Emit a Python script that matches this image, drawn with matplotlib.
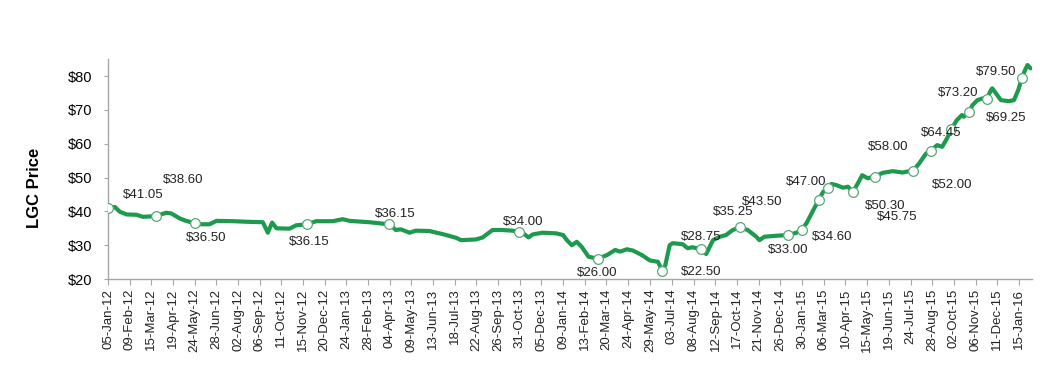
import matplotlib
matplotlib.use("Agg")
import matplotlib.pyplot as plt
import pandas as pd

plt.rcParams['font.family'] = ['Liberation Sans', 'DejaVu Sans']

# LGC spot price trace
dates = [
    "2012-01-05", "2012-01-16", "2012-01-24", "2012-02-04", "2012-02-20", "2012-03-01",
    "2012-03-22", "2012-04-08", "2012-04-16", "2012-04-30", "2012-05-10", "2012-05-24",
    "2012-06-01", "2012-06-17", "2012-06-28", "2012-07-25", "2012-08-21", "2012-09-11",
    "2012-09-19", "2012-09-26", "2012-10-03", "2012-10-24", "2012-11-04", "2012-11-21",
    "2012-12-06", "2013-01-02", "2013-01-18", "2013-01-29", "2013-03-02", "2013-03-18",
    "2013-04-03", "2013-04-14", "2013-04-22", "2013-05-06", "2013-05-16", "2013-06-07",
    "2013-06-28", "2013-07-20", "2013-07-28", "2013-08-21", "2013-09-01", "2013-09-17",
    "2013-10-03", "2013-10-19", "2013-10-29", "2013-11-07", "2013-11-14", "2013-11-21",
    "2013-12-07", "2013-12-29", "2014-01-09", "2014-01-15", "2014-01-23", "2014-01-31",
    "2014-02-08", "2014-02-19", "2014-03-06", "2014-03-21", "2014-04-03", "2014-04-11",
    "2014-04-22", "2014-05-02", "2014-05-16", "2014-05-29", "2014-06-11", "2014-06-18",
    "2014-06-23", "2014-06-30", "2014-07-05", "2014-07-21", "2014-07-29", "2014-08-06",
    "2014-08-20", "2014-08-28", "2014-09-08", "2014-09-19", "2014-09-29", "2014-10-10",
    "2014-10-21", "2014-11-03", "2014-11-17", "2014-11-22", "2014-11-30", "2014-12-19",
    "2015-01-07", "2015-01-21", "2015-01-29", "2015-02-06", "2015-02-17", "2015-02-26",
    "2015-03-05", "2015-03-12", "2015-03-18", "2015-03-26", "2015-04-06", "2015-04-14",
    "2015-04-22", "2015-04-30", "2015-05-07", "2015-05-16", "2015-05-27", "2015-06-09",
    "2015-06-25", "2015-07-11", "2015-07-22", "2015-07-28", "2015-08-07", "2015-08-18",
    "2015-08-26", "2015-09-05", "2015-09-13", "2015-09-21", "2015-09-28", "2015-10-07",
    "2015-10-15", "2015-10-18", "2015-10-26", "2015-11-01", "2015-11-09", "2015-11-17",
    "2015-11-24", "2015-12-01", "2015-12-03", "2015-12-09", "2015-12-17", "2015-12-30",
    "2016-01-07", "2016-01-14", "2016-01-20", "2016-01-25", "2016-01-29", "2016-02-03",
]
prices = [
    41.05, 41.3, 39.9, 39.1, 39.0, 38.4,
    38.6, 39.6, 39.4, 37.9, 37.2, 36.5,
    36.2, 36.2, 37.2, 37.1, 36.9, 36.8,
    33.7, 36.7, 35.0, 34.9, 35.9, 36.15,
    37.1, 37.1, 37.7, 37.2, 36.8, 36.5,
    36.15, 34.5, 34.7, 33.7, 34.3, 34.2,
    33.3, 32.2, 31.5, 31.7, 32.3, 34.5,
    34.5, 34.3, 34.0, 33.3, 32.3, 33.2,
    33.7, 33.5, 33.0, 31.5, 30.0, 31.0,
    29.5, 26.6, 26.0, 27.1, 28.6, 28.1,
    28.8, 28.4, 27.1, 25.5, 25.1, 22.5,
    24.1, 30.0, 30.6, 30.3, 29.1, 29.4,
    28.75, 27.4, 31.5, 32.5, 33.0, 34.5,
    35.25, 34.5, 32.5, 31.5, 32.5, 32.8,
    33.0, 33.7, 34.6, 36.5, 40.4, 43.5,
    45.8, 47.0, 48.1, 47.8, 47.0, 47.3,
    45.75, 48.3, 50.7, 49.8, 50.3, 51.4,
    51.9, 51.5, 51.9, 52.0, 54.2, 57.1,
    58.0, 59.6, 59.1, 61.6, 64.45, 67.0,
    68.5, 68.0, 69.25, 71.4, 72.9, 73.4,
    73.2, 75.9, 76.4, 74.9, 72.9, 72.6,
    72.9, 75.9, 79.5, 81.8, 83.3, 82.3,
]

# labelled points
label_dates = [
    "2012-01-05", "2012-03-22", "2012-05-24", "2012-11-21", "2013-04-03", "2013-10-29",
    "2014-03-06", "2014-06-18", "2014-08-20", "2014-10-21", "2015-02-26", "2015-01-07",
    "2015-01-29", "2015-03-12", "2015-04-22", "2015-05-27", "2015-08-26", "2015-07-28",
    "2015-09-28", "2015-10-26", "2015-11-24", "2016-01-20",
]
label_values = [
    41.05, 38.60, 36.50, 36.15, 36.15, 34.00,
    26.00, 22.50, 28.75, 35.25, 43.50, 33.00,
    34.60, 47.00, 45.75, 50.30, 58.00, 52.00,
    64.45, 69.25, 73.20, 79.50,
]

tick_labels = [
    "05-Jan-12", "09-Feb-12", "15-Mar-12", "19-Apr-12", "24-May-12", "28-Jun-12",
    "02-Aug-12", "06-Sep-12", "11-Oct-12", "15-Nov-12", "20-Dec-12", "24-Jan-13",
    "28-Feb-13", "04-Apr-13", "09-May-13", "13-Jun-13", "18-Jul-13", "22-Aug-13",
    "26-Sep-13", "31-Oct-13", "05-Dec-13", "09-Jan-14", "13-Feb-14", "20-Mar-14",
    "24-Apr-14", "29-May-14", "03-Jul-14", "08-Aug-14", "12-Sep-14", "17-Oct-14",
    "21-Nov-14", "26-Dec-14", "30-Jan-15", "06-Mar-15", "10-Apr-15", "15-May-15",
    "19-Jun-15", "24-Jul-15", "28-Aug-15", "02-Oct-15", "06-Nov-15", "11-Dec-15",
    "15-Jan-16",
]

# label offsets in pixels (dx, dy) from each marker
offsets = [
    (35, 13), (27, 36), (11, -15), (2, -18), (6, 10), (5, 10),
    (-1, -14), (39, -1), (0, 12), (-6, 15), (-57, -2), (0, -15),
    (31, -7), (-21, 6), (44, -25), (11, -29), (-43, 4), (39, -14),
    (-10, -4), (37, -6), (-29, 6), (-26, 6),
]

green = '#1d9a4e'
grey = '#a6a6a6'

x = pd.to_datetime(dates)
lx = pd.to_datetime(label_dates)
tx = pd.to_datetime(tick_labels, format='%d-%b-%y')

fig = plt.figure(figsize=(10.51, 3.68), dpi=100)
ax = fig.add_axes([0.1028, 0.2418, 0.879, 0.5972])

ax.plot(x, prices, color=green, linewidth=3.0, solid_joinstyle='round',
        solid_capstyle='round', zorder=2)
ax.plot(lx, label_values, linestyle='none', marker='o', markersize=7,
        markerfacecolor='white', markeredgecolor='#5aa878', markeredgewidth=0.9,
        zorder=3)

for d, v, (dx, dy) in zip(lx, label_values, offsets):
    ax.annotate(f"${v:.2f}", xy=(d, v), xytext=(dx, dy), textcoords='offset pixels',
                ha='center', va='center', fontsize=9.5, color='#222222', zorder=4)

ax.set_xlim(pd.Timestamp("2012-01-05"), pd.Timestamp("2016-02-05"))
ax.set_ylim(20, 85)
ax.set_yticks([20, 30, 40, 50, 60, 70, 80])
ax.set_yticklabels([f"${v}" for v in [20, 30, 40, 50, 60, 70, 80]], fontsize=10.5)
ax.set_xticks(tx)
ax.set_xticklabels(tick_labels, rotation=90, fontsize=9.5, color='#222222')
ax.xaxis.set_minor_locator(plt.NullLocator())

for s in ['top', 'right']:
    ax.spines[s].set_visible(False)
for s in ['left', 'bottom']:
    ax.spines[s].set_color(grey)
    ax.spines[s].set_linewidth(1.0)
ax.tick_params(axis='y', length=3, color=grey, pad=8)
ax.tick_params(axis='x', length=4, color=grey, pad=3)

fig.text(0.033, 0.489, "LGC Price", rotation=90, ha='center', va='center',
         fontsize=12, fontweight='bold')

fig.savefig("out.png", dpi=100)
